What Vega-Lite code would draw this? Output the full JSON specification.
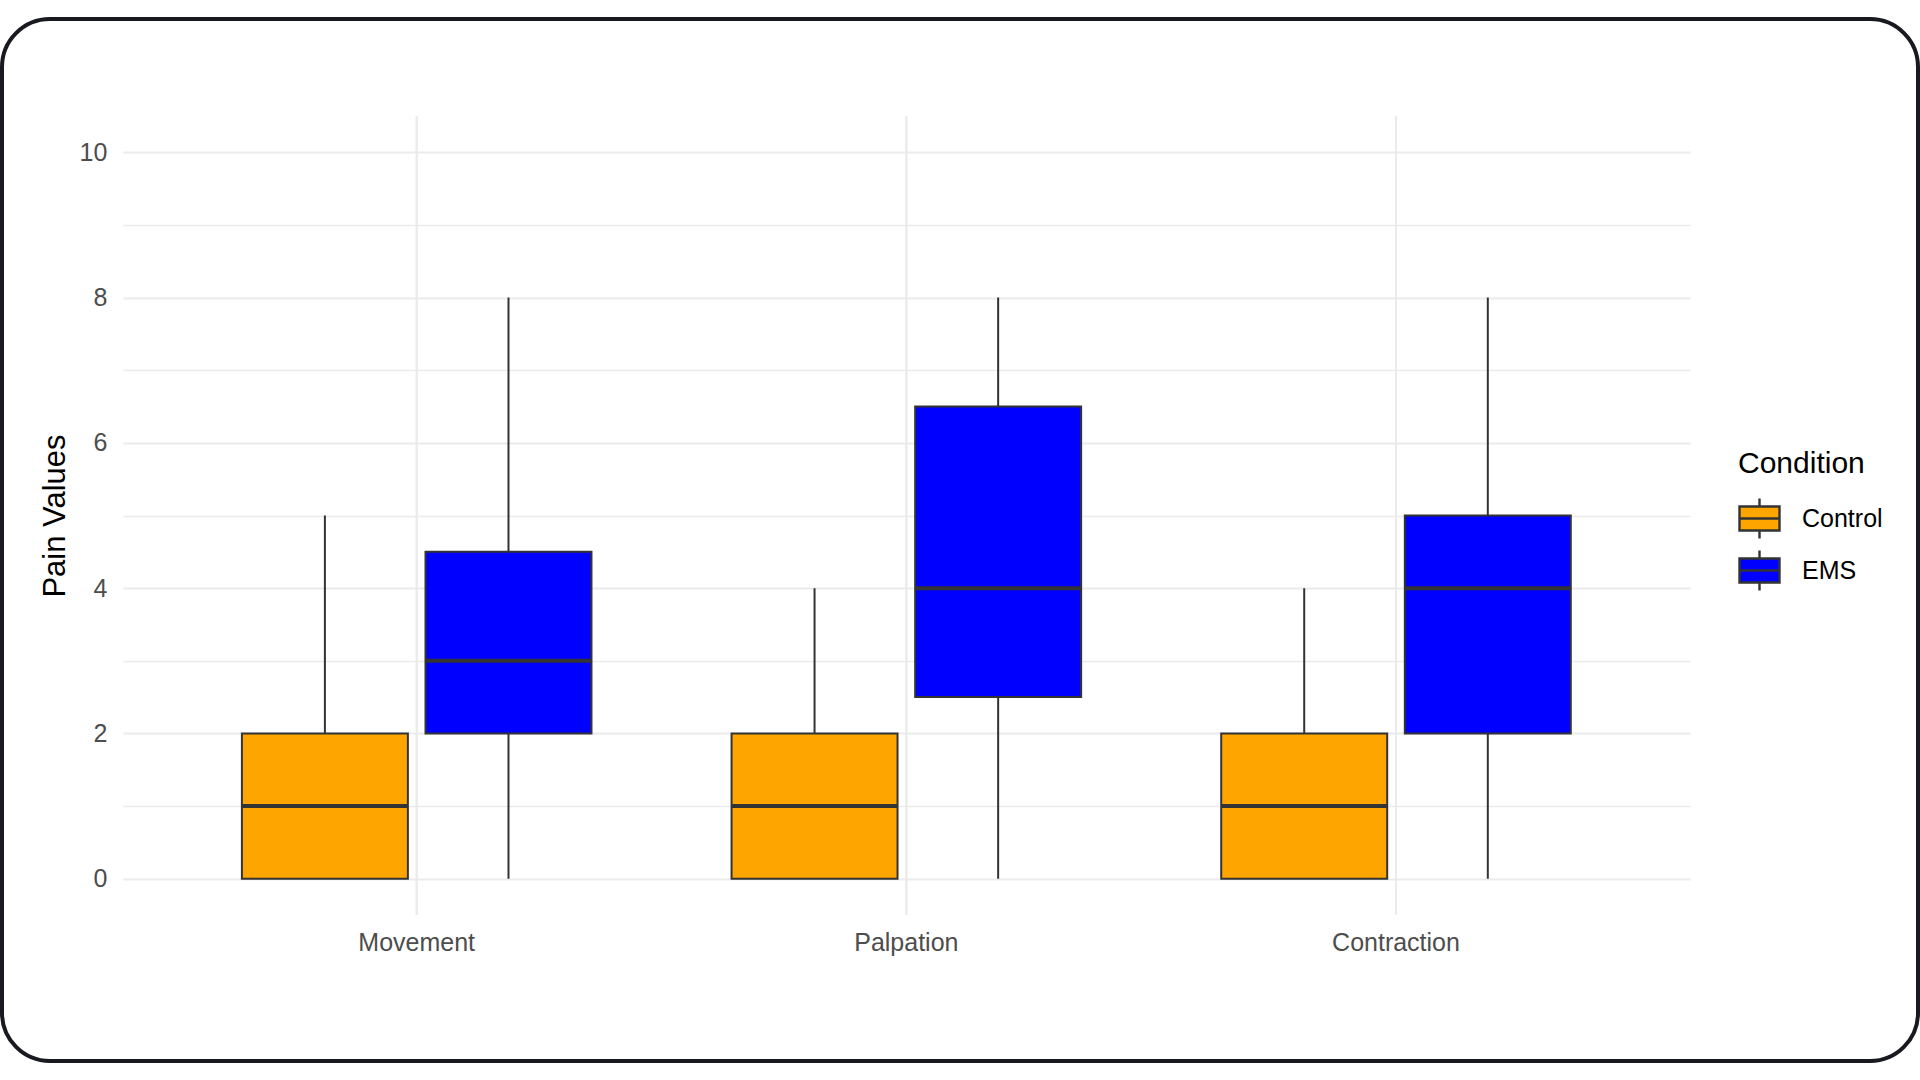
{
  "$schema": "https://vega.github.io/schema/vega-lite/v6.json",
  "description": "Pain values by measurement type and condition, drawn as box plots.",
  "autosize": {"type": "none"},
  "padding": {"left": 2, "top": 19, "right": 2, "bottom": 19},
  "width": 1916,
  "height": 1042,
  "background": "white",
  "data": {
    "values": [
      {"measure": "Movement", "condition": "Control", "lower": 0, "q1": 0, "median": 1, "q3": 2, "upper": 5},
      {"measure": "Movement", "condition": "EMS", "lower": 0, "q1": 2, "median": 3, "q3": 4.5, "upper": 8},
      {"measure": "Palpation", "condition": "Control", "lower": 0, "q1": 0, "median": 1, "q3": 2, "upper": 4},
      {"measure": "Palpation", "condition": "EMS", "lower": 0, "q1": 2.5, "median": 4, "q3": 6.5, "upper": 8},
      {"measure": "Contraction", "condition": "Control", "lower": 0, "q1": 0, "median": 1, "q3": 2, "upper": 4},
      {"measure": "Contraction", "condition": "EMS", "lower": 0, "q1": 2, "median": 4, "q3": 5, "upper": 8}
    ]
  },
  "encoding": {
    "x": {
      "field": "measure",
      "type": "nominal",
      "sort": ["Movement", "Palpation", "Contraction"],
      "scale": {"range": [120.9, 1687.8], "paddingInner": 0, "paddingOuter": 0.1},
      "axis": {
        "title": null,
        "offset": -146,
        "domain": false,
        "ticks": false,
        "grid": false,
        "labelAngle": 0,
        "labelPadding": 15,
        "labelFontSize": 25,
        "labelColor": "#4D4D4D"
      }
    }
  },
  "layer": [
    {
      "mark": {"type": "rule", "color": "#EBEBEB", "strokeWidth": 2},
      "encoding": {
        "y": {
          "datum": -0.5,
          "type": "quantitative",
          "scale": {"domain": [-0.5, 10.5], "range": [896, 97], "nice": false, "zero": false},
          "axis": {
            "title": "Pain Values",
            "titleFontSize": 31,
            "titleFontWeight": "normal",
            "titleColor": "#000000",
            "titlePadding": 8,
            "offset": -120.9,
            "values": [0, 1, 2, 3, 4, 5, 6, 7, 8, 9, 10],
            "format": "d",
            "labelExpr": "datum.value % 2 === 0 ? datum.label : ''",
            "domain": false,
            "ticks": false,
            "grid": true,
            "gridColor": "#EBEBEB",
            "gridWidth": {"condition": {"test": "datum.value % 2 === 1", "value": 1.6}, "value": 2},
            "labelPadding": 16,
            "labelDy": 2.5,
            "labelFontSize": 25,
            "labelColor": "#4D4D4D"
          }
        },
        "y2": {"datum": 10.5}
      }
    },
    {
      "mark": {"type": "rule", "color": "#333333", "strokeWidth": 2},
      "encoding": {
        "xOffset": {
          "field": "condition",
          "type": "nominal",
          "scale": {"paddingInner": 0.096, "paddingOuter": 0.3815}
        },
        "y": {"field": "lower", "type": "quantitative"},
        "y2": {"field": "upper"}
      }
    },
    {
      "mark": {"type": "bar", "stroke": "#333333", "strokeWidth": 2, "opacity": 1},
      "encoding": {
        "xOffset": {"field": "condition", "type": "nominal"},
        "y": {"field": "q1", "type": "quantitative"},
        "y2": {"field": "q3"},
        "color": {
          "field": "condition",
          "type": "nominal",
          "scale": {"domain": ["Control", "EMS"], "range": ["#FFA500", "#0000FF"]},
          "legend": {
            "title": "Condition",
            "orient": "none",
            "legendX": 1736,
            "legendY": 430,
            "padding": 0,
            "titleFontSize": 30,
            "titleFontWeight": "normal",
            "titleColor": "#000000",
            "titlePadding": 18,
            "labelFontSize": 25,
            "labelColor": "#000000",
            "labelOffset": 21,
            "rowPadding": 1,
            "symbolType": "M-1,-0.6H1V0.6H-1Z M-1,0H1 M0,-0.6V-1 M0,0.6V1",
            "symbolSize": 1600,
            "symbolStrokeColor": "#333333",
            "symbolStrokeWidth": 2.4,
            "symbolOpacity": 1
          }
        }
      }
    },
    {
      "mark": {"type": "tick", "color": "#333333", "orient": "horizontal", "size": 166, "thickness": 4, "opacity": 1},
      "encoding": {
        "xOffset": {"field": "condition", "type": "nominal"},
        "y": {"field": "median", "type": "quantitative"}
      }
    }
  ],
  "config": {
    "font": "Liberation Sans",
    "view": {"stroke": "#191922", "strokeWidth": 4, "cornerRadius": 48}
  }
}
